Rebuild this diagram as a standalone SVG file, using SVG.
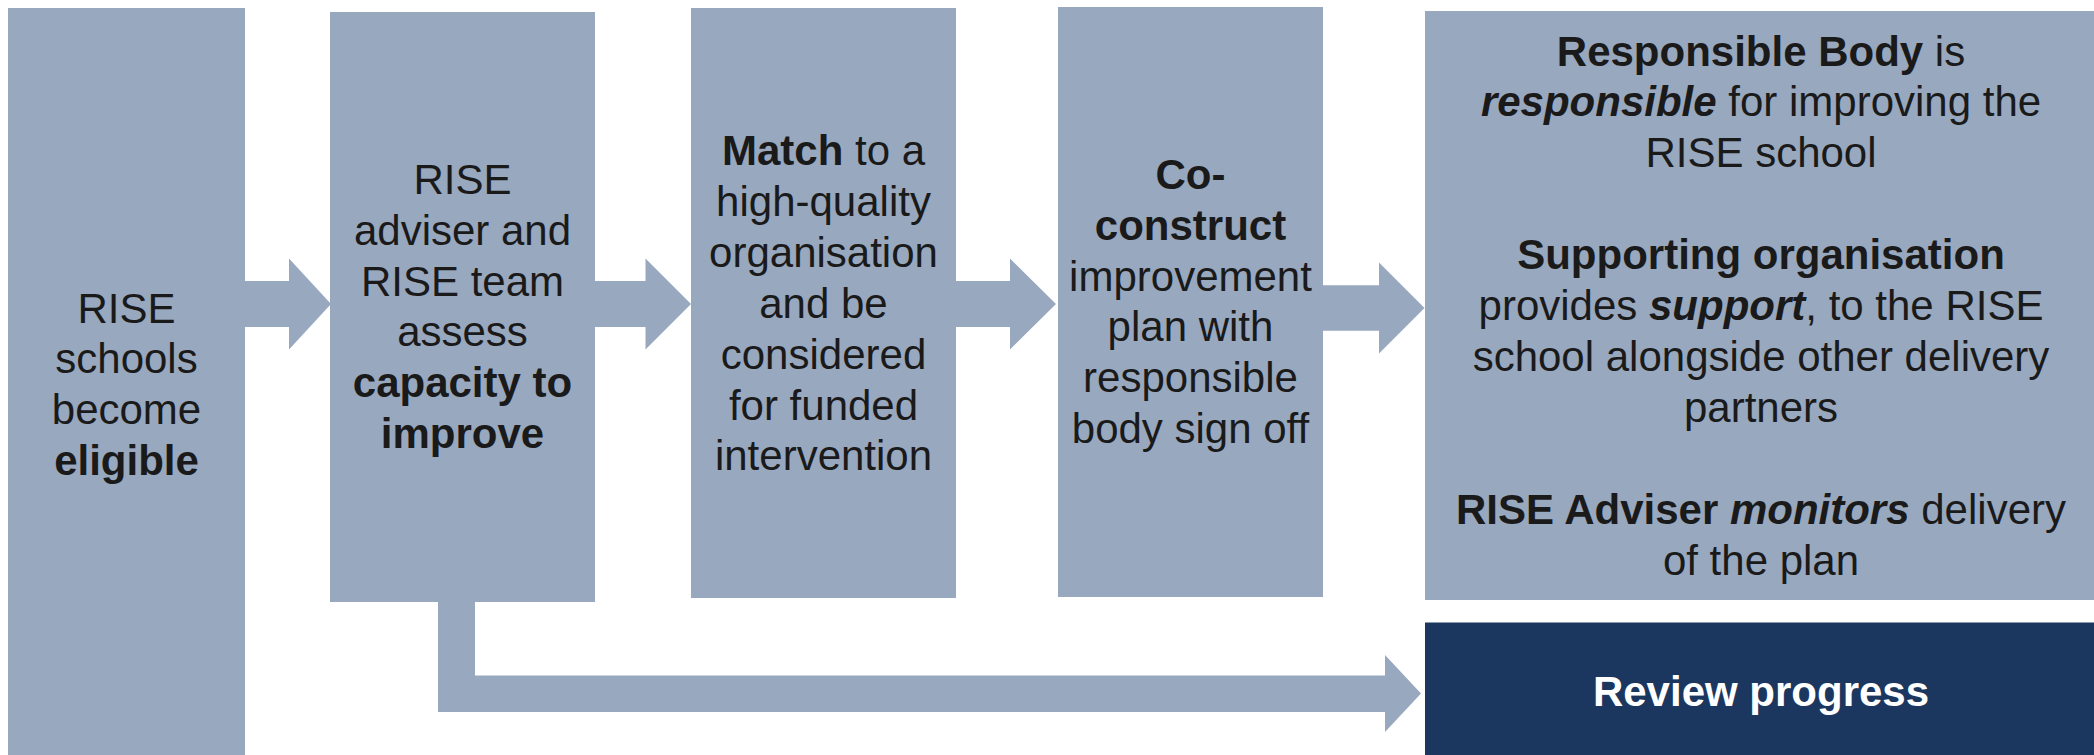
<svg xmlns="http://www.w3.org/2000/svg" width="2094" height="755" viewBox="0 0 2094 755">
<style>
.box{fill:#98a8bf}
.dark{fill:#1b375f}
.conn{fill:#98a8bf}
.t{font-family:"Liberation Sans",Arial,sans-serif;font-size:42px;fill:#1a1a1a;text-anchor:middle}
.w{fill:#ffffff;font-weight:bold}
.b{font-weight:bold}
.bi{font-weight:bold;font-style:italic}
</style>
<rect width="2094" height="755" fill="#ffffff"/>
<g id="connectors">
<polygon class="conn" points="245,281 289,281 289,258.6 331,304 289,349.4 289,327 245,327"/>
<polygon class="conn" points="595,281 645.5,281 645.5,258.6 691,304 645.5,349.4 645.5,327 595,327"/>
<polygon class="conn" points="956,281 1010,281 1010,258.6 1056,304 1010,349.4 1010,327 956,327"/>
<polygon class="conn" points="1323,285.3 1379,285.3 1379,262.6 1424.5,308 1379,353.4 1379,330.7 1323,330.7"/>
<path class="conn" d="M438,600 L475,600 L475,675.5 L1385,675.5 L1385,655 L1421,693.5 L1385,732 L1385,712 L438,712 Z"/>
</g>
<g id="node1">
<rect class="box" x="8" y="8" width="237" height="747"/>
<text class="t" x="126.5" y="322.5">RISE</text>
<text class="t" x="126.5" y="373.2">schools</text>
<text class="t" x="126.5" y="423.9">become</text>
<text class="t b" x="126.5" y="474.6">eligible</text>
</g>
<g id="node2">
<rect class="box" x="330" y="12" width="265" height="590"/>
<text class="t" x="462.5" y="194.3">RISE</text>
<text class="t" x="462.5" y="245">adviser and</text>
<text class="t" x="462.5" y="295.7">RISE team</text>
<text class="t" x="462.5" y="346.4">assess</text>
<text class="t b" x="462.5" y="397.1">capacity to</text>
<text class="t b" x="462.5" y="447.8">improve</text>
</g>
<g id="node3">
<rect class="box" x="691" y="8" width="265" height="590"/>
<text class="t" x="823.5" y="165.3"><tspan class="b">Match</tspan> to a</text>
<text class="t" x="823.5" y="216.1">high-quality</text>
<text class="t" x="823.5" y="267">organisation</text>
<text class="t" x="823.5" y="317.8">and be</text>
<text class="t" x="823.5" y="368.7">considered</text>
<text class="t" x="823.5" y="419.5">for funded</text>
<text class="t" x="823.5" y="470.4">intervention</text>
</g>
<g id="node4">
<rect class="box" x="1058" y="7" width="265" height="590"/>
<text class="t b" x="1190.5" y="189">Co-</text>
<text class="t b" x="1190.5" y="239.8">construct</text>
<text class="t" x="1190.5" y="290.6">improvement</text>
<text class="t" x="1190.5" y="341.4">plan with</text>
<text class="t" x="1190.5" y="392.2">responsible</text>
<text class="t" x="1190.5" y="443">body sign off</text>
</g>
<g id="node5">
<rect class="box" x="1425" y="11" width="669" height="589"/>
<text class="t" x="1761" y="65.5"><tspan class="b">Responsible Body</tspan> is</text>
<text class="t" x="1761" y="116.4"><tspan class="bi">responsible</tspan> for improving the</text>
<text class="t" x="1761" y="167.3">RISE school</text>
<text class="t b" x="1761" y="269">Supporting organisation</text>
<text class="t" x="1761" y="319.9">provides <tspan class="bi">support</tspan>, to the RISE</text>
<text class="t" x="1761" y="370.8">school alongside other delivery</text>
<text class="t" x="1761" y="421.7">partners</text>
<text class="t" x="1761" y="524"><tspan class="b">RISE Adviser</tspan> <tspan class="bi">monitors</tspan> delivery</text>
<text class="t" x="1761" y="574.9">of the plan</text>
</g>
<g id="node6">
<rect class="dark" x="1425" y="622.5" width="669" height="132.5"/>
<text class="t w" x="1761" y="705.5">Review progress</text>
</g>
</svg>
